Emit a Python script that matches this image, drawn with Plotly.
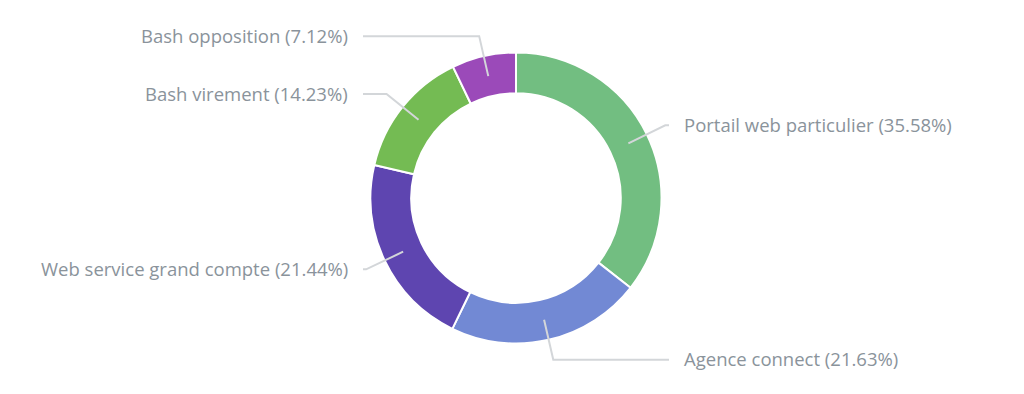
import math
import plotly.graph_objects as go

labels = ["Portail web particulier", "Agence connect", "Web service grand compte", "Bash virement", "Bash opposition"]
values = [35.58, 21.63, 21.44, 14.23, 7.12]
colors = ["#72be81", "#7289d4", "#5e45b0", "#74bb53", "#9b4ab9"]

W, H = 1024, 394
cx, cy = 516, 198
R = 145.5
r1, r2 = 125, 166
hx = 153      # horizontal end of leader line from centre
tx = 166      # text offset from centre

fig = go.Figure(go.Pie(
    labels=labels, values=values, sort=False, direction="clockwise", rotation=0,
    hole=0.72, textinfo="none", hoverinfo="label+percent",
    marker=dict(colors=colors, line=dict(color="white", width=2)),
    domain=dict(x=[(cx - R) / W, (cx + R) / W], y=[(H - cy - R) / H, (H - cy + R) / H]),
    showlegend=False,
))

def px(x):
    return x / W

def py(y):
    return 1 - y / H

total = sum(values)
cum = 0
shapes, annotations = [], []
for lab, v in zip(labels, values):
    mid = (cum + v / 2) / total * 2 * math.pi
    cum += v
    dx, dy = math.sin(mid), -math.cos(mid)
    x1, y1 = cx + r1 * dx, cy + r1 * dy
    x2, y2 = cx + r2 * dx, cy + r2 * dy
    right = dx >= 0
    x3 = cx + hx if right else cx - hx
    path = f"M {px(x1)},{py(y1)} L {px(x2)},{py(y2)} L {px(x3)},{py(y2)}"
    shapes.append(dict(type="path", path=path, xref="paper", yref="paper",
                       line=dict(color="#d3d6d9", width=2)))
    annotations.append(dict(
        x=px(cx + tx if right else cx - tx), y=py(y2 - 1), xref="paper", yref="paper",
        text=f"{lab} ({v:.2f}%)", showarrow=False,
        xanchor="left" if right else "right", yanchor="middle",
        font=dict(family="Open Sans", size=18.5, color="#8a939b"),
    ))

fig.update_layout(
    width=W, height=H, margin=dict(l=0, r=0, t=0, b=0),
    paper_bgcolor="white", plot_bgcolor="white",
    shapes=shapes, annotations=annotations,
)
fig.write_html("out.html", config={"displayModeBar": False},
               post_script="document.body.style.margin='0';document.body.style.overflow='hidden';")
